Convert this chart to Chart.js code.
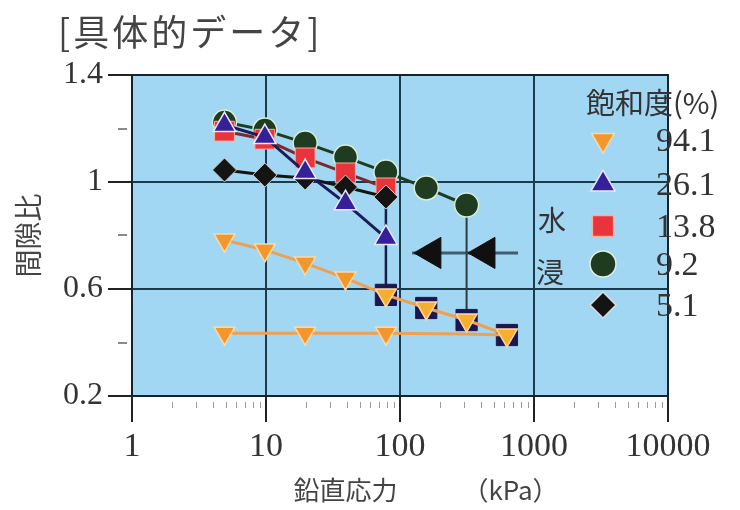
<!DOCTYPE html>
<html>
<head>
<meta charset="utf-8">
<script src="https://cdn.jsdelivr.net/npm/chart.js@4/dist/chart.umd.min.js"></script>
<style>
  html, body { margin: 0; padding: 0; background: #ffffff; }
  #wrap { width: 740px; height: 510px; }
</style>
</head>
<body>
<div id="wrap"><canvas id="c" width="740" height="510"></canvas></div>
<script>
// ---- data ----
const chartTitle = "[具体的データ]";
const xTitle = "　　鉛直応力　　　（kPa）";
const yTitle = "間隙比";
const legendTitle = "飽和度(%)";
const saturation = ["94.1", "26.1", "13.8", "9.2", "5.1"];
const immersionText = ["水", "浸"];

const xTickValues = [1, 10, 100, 1000, 10000];
const yLabelValues = [0.2, 0.6, 1.0, 1.4];

const stress = [4.9, 9.8, 19.6, 39.2, 78.5, 157, 314, 628];
const e94Load = [0.783, 0.746, 0.697, 0.641, 0.578, 0.529, 0.484, 0.428];
const e94UnloadStress = [628, 314, 78.5, 19.6, 4.9];
const e94Unload = [0.428, 0.432, 0.435, 0.435, 0.435];
const e26 = [1.213, 1.168, 1.037, 0.921, 0.791];
const e138 = [1.190, 1.160, 1.090, 1.034, 0.978];
const e92 = [1.224, 1.194, 1.146, 1.093, 1.037, 0.978, 0.914];
const e51 = [1.045, 1.026, 1.015, 0.981, 0.944];
const collapsedStress = [78.5, 157, 314, 628];
const collapsedE = [0.578, 0.529, 0.484, 0.428];
const drop1Stress = [78.5, 78.5];
const drop1E = [0.978, 0.578];
const drop2Stress = [314, 314];
const drop2E = [0.914, 0.484];
const arrowLineStress = [123, 760];
const arrowLineE = [0.735, 0.735];
const arrowStress = [173, 438];
const arrowE = [0.735, 0.735];

const pts = (xs, ys) => ys.map((y, i) => ({x: xs[i], y: y}));

const ORANGE = '#f4962e';
const BLUE = '#35209a';
const RED = '#e8343a';
const GREEN = '#1f3b20';
const BLACK = '#141414';

const legendStyles = [
  {pointStyle: 'triangle', rotation: 180, radius: 13, bg: ORANGE, border: '#fbd9a8'},
  {pointStyle: 'triangle', rotation: 0, radius: 14, bg: BLUE, border: '#e8e8ff'},
  {pointStyle: 'rect', rotation: 0, radius: 15, bg: RED, border: '#f5b0a0'},
  {pointStyle: 'circle', rotation: 0, radius: 13, bg: GREEN, border: '#e0f0e0'},
  {pointStyle: 'rectRot', rotation: 0, radius: 13, bg: BLACK, border: '#dddddd'}
];

const datasets = [
  { // arrow line
    data: pts(arrowLineStress, arrowLineE), borderColor: '#3e5f6e', borderWidth: 3,
    pointRadius: 0, showLine: true, order: 9
  },
  { // arrow heads
    data: pts(arrowStress, arrowE), showLine: false, pointStyle: 'triangle', rotation: -90,
    pointRadius: 18, pointBackgroundColor: '#101010', pointBorderColor: '#101010', pointBorderWidth: 1, order: 8
  },
  { // drop lines
    data: pts(drop1Stress, drop1E), borderColor: '#1c1c4a', borderWidth: 2.5, pointRadius: 0, showLine: true, order: 7
  },
  {
    data: pts(drop2Stress, drop2E), borderColor: '#2c3c3c', borderWidth: 2, pointRadius: 0, showLine: true, order: 7
  },
  { // 9.2
    data: pts(stress, e92), borderColor: GREEN, borderWidth: 3, showLine: true,
    pointStyle: 'circle', pointRadius: 12, pointBackgroundColor: GREEN, pointBorderColor: '#d8ecd8', pointBorderWidth: 1.5, order: 6
  },
  { // 13.8
    data: pts(stress, e138), borderColor: '#7a2a2a', borderWidth: 3, showLine: true,
    pointStyle: 'rect', pointRadius: 14, pointBackgroundColor: RED, pointBorderColor: '#f5b0a0', pointBorderWidth: 1, order: 5
  },
  { // 5.1
    data: pts(stress, e51), borderColor: BLACK, borderWidth: 3, showLine: true,
    pointStyle: 'rectRot', pointRadius: 12, pointBackgroundColor: BLACK, pointBorderColor: '#d0d0d0', pointBorderWidth: 1, order: 4
  },
  { // 26.1
    data: pts(stress, e26), borderColor: '#1c1c5a', borderWidth: 3, showLine: true,
    pointStyle: 'triangle', pointRadius: 13, pointBackgroundColor: BLUE, pointBorderColor: '#e8e8ff', pointBorderWidth: 1.5, order: 3
  },
  { // collapsed squares
    data: pts(collapsedStress, collapsedE), showLine: false,
    pointStyle: 'rect', pointRadius: 15, pointBackgroundColor: '#1d1650', pointBorderColor: '#1d1650', pointBorderWidth: 1, order: 2
  },
  { // 94.1 unloading
    data: pts(e94UnloadStress, e94Unload), borderColor: '#f0a050', borderWidth: 3, showLine: true,
    pointStyle: 'triangle', rotation: 180, pointRadius: [0, 0, 12, 12, 12],
    pointBackgroundColor: ORANGE, pointBorderColor: '#fbd9a8', pointBorderWidth: 1.5, order: 1
  },
  { // 94.1 loading
    data: pts(stress, e94Load), borderColor: '#f0a050', borderWidth: 3, showLine: true,
    pointStyle: 'triangle', rotation: 180, pointRadius: 12,
    pointBackgroundColor: [ORANGE, ORANGE, ORANGE, ORANGE, '#f6ae2e', '#f6ae2e', '#f6ae2e', '#f6ae2e'],
    pointBorderColor: '#fbd9a8', pointBorderWidth: 1.5, order: 0
  }
];

const bgPlugin = {
  id: 'bgPlugin',
  beforeDraw(chart) {
    const {ctx, chartArea: a} = chart;
    ctx.save();
    ctx.fillStyle = '#a2d7f3';
    ctx.fillRect(a.left, a.top, a.right - a.left, a.bottom - a.top);
    ctx.restore();
  },
  beforeDatasetsDraw(chart) {
    const {ctx, chartArea: a, scales} = chart;
    ctx.save();
    ctx.strokeStyle = '#15232c';
    ctx.lineWidth = 2;
    ctx.strokeRect(a.left, a.top, a.right - a.left, a.bottom - a.top);
    // minor x ticks
    ctx.strokeStyle = '#9a9a9a';
    ctx.lineWidth = 1;
    for (let k = 0; k < 4; k++) {
      for (let d = 2; d <= 9; d++) {
        const px = Math.round(scales.x.getPixelForValue(d * Math.pow(10, k))) + 0.5;
        ctx.beginPath(); ctx.moveTo(px, a.bottom + 6); ctx.lineTo(px, a.bottom + 12); ctx.stroke();
      }
    }
    // minor y ticks
    ctx.strokeStyle = '#8a8a8a';
    ctx.lineWidth = 2;
    [0.4, 0.8, 1.2].forEach(v => {
      const py = Math.round(scales.y.getPixelForValue(v));
      ctx.beginPath(); ctx.moveTo(a.left - 14, py); ctx.lineTo(a.left - 5, py); ctx.stroke();
    });
    ctx.restore();
  },
  afterDraw(chart) {
    const {ctx} = chart;
    ctx.save();
    // title
    ctx.fillStyle = '#444444';
    ctx.font = '36px "Noto Sans CJK JP"';
    ctx.textBaseline = 'middle';
    ctx.textAlign = 'left';
    try { ctx.letterSpacing = '3px'; } catch (e) {}
    ctx.fillText(chartTitle, 58, 32);
    try { ctx.letterSpacing = '0px'; } catch (e) {}
    // immersion text
    ctx.fillStyle = '#333333';
    ctx.font = '28px "Noto Sans CJK JP"';
    ctx.textAlign = 'center';
    ctx.fillText(immersionText[0], 552, 220);
    ctx.fillText(immersionText[1], 550, 272);
    // legend title
    ctx.font = '29px "Noto Sans CJK JP"';
    ctx.textAlign = 'left';
    ctx.fillText(legendTitle, 586, 103);
    // legend entries
    const rows = [140, 184, 226, 264, 305];
    legendStyles.forEach((s, i) => {
      ctx.fillStyle = s.bg;
      ctx.strokeStyle = s.border;
      ctx.lineWidth = 1.5;
      Chart.helpers.drawPoint(ctx, {pointStyle: s.pointStyle, rotation: s.rotation, radius: s.radius, borderWidth: 1.5}, 603, rows[i]);
      ctx.fillStyle = '#333333';
      ctx.font = '34px "Liberation Serif"';
      ctx.textAlign = 'left';
      ctx.fillText(saturation[i], 656, rows[i] + 2);
    });
    ctx.restore();
  }
};

const near = (a, b) => Math.abs(a - b) < 1e-6;

new Chart(document.getElementById('c'), {
  type: 'scatter',
  data: { datasets: datasets },
  plugins: [bgPlugin],
  options: {
    responsive: false,
    devicePixelRatio: 1,
    animation: false,
    layout: { padding: { top: 75, right: 72, left: 0, bottom: 0 } },
    plugins: { legend: { display: false }, tooltip: { enabled: false }, title: { display: false } },
    scales: {
      x: {
        type: 'logarithmic', min: 1, max: 10000,
        afterBuildTicks: (scale) => { scale.ticks = xTickValues.map(v => ({value: v})); },
        afterFit: (scale) => { scale.height = 114; },
        ticks: {
          autoSkip: false, maxRotation: 0, padding: 5,
          font: { family: '"Liberation Serif"', size: 34 }, color: '#333333',
          callback: (v) => String(v)
        },
        grid: {
          drawOnChartArea: true, tickLength: 26,
          color: '#1b3a4c', lineWidth: 2, tickColor: '#222222', tickWidth: 2
        },
        border: { display: true, color: '#15232c', width: 2 },
        title: {
          display: true, text: xTitle, color: '#444444',
          font: { family: '"Noto Sans CJK JP"', size: 26 }, padding: { top: 0, bottom: 4 }
        }
      },
      y: {
        min: 0.2, max: 1.4,
        afterFit: (scale) => { scale.width = 132; },
        ticks: {
          stepSize: 0.2, padding: 5, autoSkip: false,
          font: { family: '"Liberation Serif"', size: 32 }, color: '#333333',
          callback: (v) => {
            const r = Math.round(v * 10) / 10;
            return yLabelValues.some(t => near(t, r)) ? String(r) : '';
          }
        },
        grid: {
          drawOnChartArea: true, tickLength: 24, lineWidth: 2, tickWidth: 2,
          color: (c) => {
            const r = Math.round(c.tick.value * 10) / 10;
            return yLabelValues.some(t => near(t, r)) ? '#1b3a4c' : 'rgba(0,0,0,0)';
          },
          tickColor: (c) => {
            const r = Math.round(c.tick.value * 10) / 10;
            return yLabelValues.some(t => near(t, r)) ? '#222222' : 'rgba(0,0,0,0)';
          }
        },
        border: { display: true, color: '#15232c', width: 2 },
        title: {
          display: true, text: yTitle, color: '#444444',
          font: { family: '"Noto Sans CJK JP"', size: 28 }, padding: { top: 12, bottom: 0 }
        }
      }
    }
  }
});
</script>
</body>
</html>
